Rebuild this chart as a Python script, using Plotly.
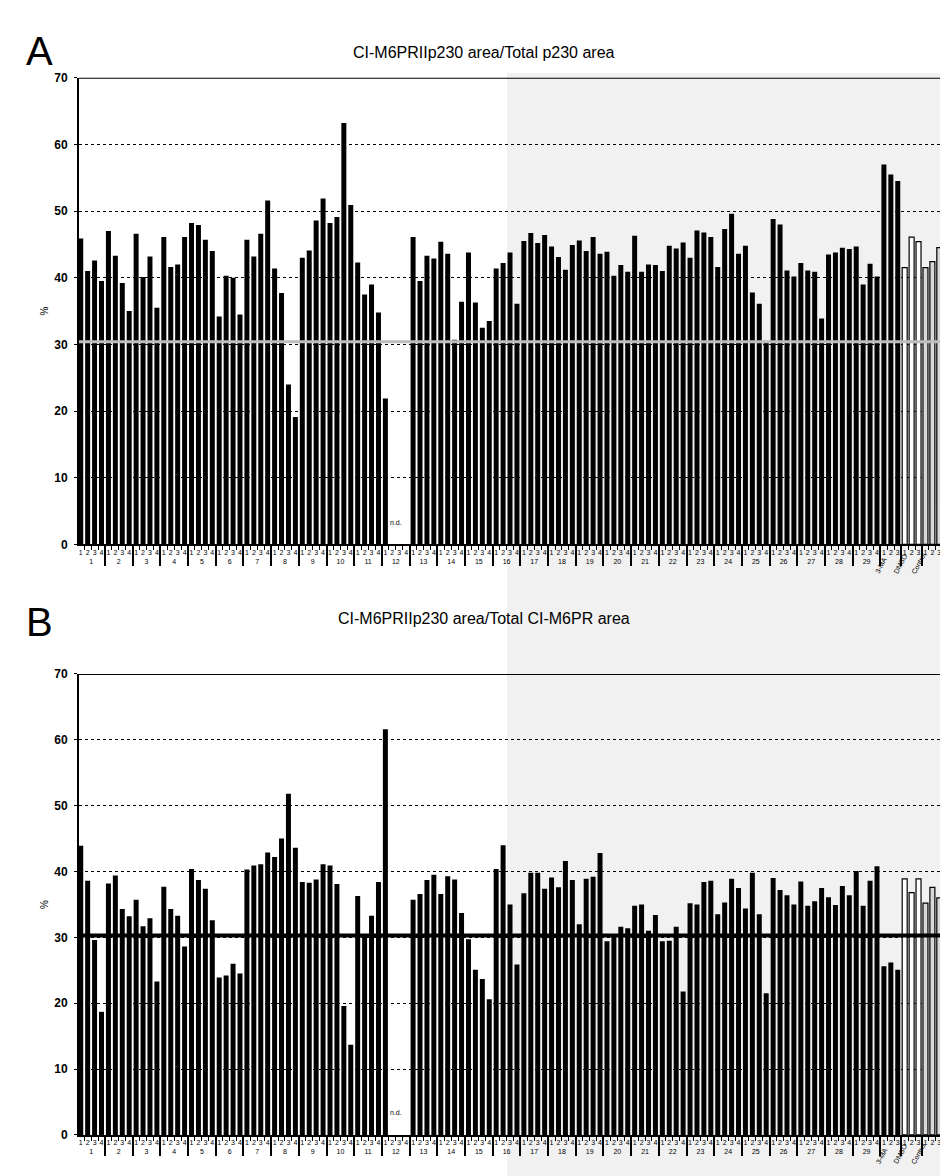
import plotly.graph_objects as go

# ---------------- data ----------------
group_names = [str(i) for i in range(1, 30)] + ["3-MA", "DMSO", "Control"]
group_sizes = [4] * 29 + [3, 3, 3]

# Panel A: CI-M6PR∩p230 area / Total p230 area (%)
vals_a = [
    45.9, 41.0, 42.6, 39.5,
    47.0, 43.3, 39.2, 35.0,
    46.6, 40.1, 43.2, 35.5,
    46.1, 41.6, 42.0, 46.1,
    48.2, 47.9, 45.7, 44.0,
    34.2, 40.3, 40.0, 34.5,
    45.7, 43.2, 46.6, 51.6,
    41.4, 37.7, 24.0, 19.1,
    43.0, 44.1, 48.6, 51.9,
    48.2, 49.1, 63.2, 50.9,
    42.3, 37.5, 39.0, 34.8,
    21.9, None, None, None,
    46.1, 39.5, 43.3, 42.9,
    45.4, 43.6, 30.7, 36.4,
    43.8, 36.3, 32.5, 33.5,
    41.4, 42.2, 43.8, 36.1,
    45.5, 46.7, 45.2, 46.4,
    44.7, 43.1, 41.2, 44.9,
    45.6, 44.0, 46.1, 43.6,
    43.9, 40.3, 41.9, 40.9,
    46.3, 40.9, 42.0, 41.9,
    41.0, 44.8, 44.4, 45.3,
    43.0, 47.1, 46.8, 46.1,
    41.6, 47.3, 49.6, 43.6,
    44.8, 37.8, 36.1, 30.4,
    48.8, 48.0, 41.1, 40.2,
    42.2, 41.1, 40.9, 33.9,
    43.5, 43.8, 44.5, 44.3,
    44.7, 39.0, 42.1, 40.2,
    57.0, 55.5, 54.5,
    41.5, 46.1, 45.4,
    41.5, 42.4, 44.5,
]

# Panel B: CI-M6PR∩p230 area / Total CI-M6PR area (%)
vals_b = [
    43.9, 38.6, 29.6, 18.7,
    38.2, 39.4, 34.3, 33.2,
    35.7, 31.7, 32.9, 23.3,
    37.7, 34.3, 33.3, 28.6,
    40.4, 38.7, 37.4, 32.6,
    23.9, 24.2, 26.0, 24.5,
    40.3, 40.9, 41.1, 42.9,
    42.2, 45.0, 51.8, 43.6,
    38.4, 38.3, 38.8, 41.1,
    40.9, 38.1, 19.6, 13.7,
    36.3, 30.5, 33.3, 38.4,
    61.6, None, None, None,
    35.7, 36.6, 38.7, 39.5,
    36.6, 39.3, 38.8, 33.7,
    29.7, 25.1, 23.7, 20.6,
    40.4, 44.0, 35.0, 25.9,
    36.7, 39.8, 39.8, 37.4,
    39.1, 37.6, 41.6, 38.7,
    32.0, 38.9, 39.2, 42.8,
    29.4, 30.5, 31.6, 31.4,
    34.8, 35.0, 31.0, 33.4,
    29.4, 29.5, 31.6, 21.8,
    35.2, 35.0, 38.4, 38.6,
    33.5, 35.3, 38.9, 37.5,
    34.4, 39.8, 33.5, 21.5,
    39.0, 37.2, 36.4, 35.0,
    38.5, 34.8, 35.5, 37.5,
    36.1, 34.9, 37.8, 36.4,
    40.1, 34.8, 38.6, 40.8,
    25.6, 26.2, 25.1,
    38.9, 36.8, 38.9,
    35.2, 37.6, 36.0,
]

threshold_a = 30.4
threshold_b = 30.3
y_ticks = [0, 10, 20, 30, 40, 50, 60, 70]
title_a = "CI-M6PRIIp230 area/Total p230 area"
title_b = "CI-M6PRIIp230 area/Total CI-M6PR area"
rotated_groups = ["3-MA", "DMSO", "Control"]

# ---------------- build categories ----------------
lvl1, lvl2, fill, edge, ewidth = [], [], [], [], []
blank_count = 0
for name, n in zip(group_names, group_sizes):
    if name in rotated_groups:
        blank_count += 1
        shown = " " * blank_count
    else:
        shown = name
    for k in range(n):
        lvl1.append(shown)
        lvl2.append(str(k + 1))
        if name == "DMSO":
            fill.append("white"); edge.append("black"); ewidth.append(1.2)
        elif name == "Control":
            fill.append("#d8d8d8"); edge.append("black"); ewidth.append(1.2)
        else:
            fill.append("black"); edge.append("black"); ewidth.append(0)

XR = [-0.25, 124.1]
FONT = "Liberation Sans, Arial, sans-serif"
Y_A = [0.5371, 0.9339]
Y_B = [0.0349, 0.4269]


def xpaper(idx):
    return (idx - XR[0]) / (XR[1] - XR[0])


fig = go.Figure()
for vals, xa, ya in [(vals_a, "x", "y"), (vals_b, "x2", "y2")]:
    fig.add_trace(go.Bar(
        x=[lvl1, lvl2], y=vals, xaxis=xa, yaxis=ya, showlegend=False,
        hoverinfo="skip",
        marker=dict(color=fill, line=dict(color=edge, width=ewidth)),
    ))

xcommon = dict(
    type="multicategory", range=XR, domain=[0, 1], showline=True,
    linecolor="black", linewidth=2, ticks="outside", ticklen=4,
    tickcolor="black", showdividers=True, dividercolor="black",
    dividerwidth=1.5, tickangle=0, tickmode="linear", dtick=1,
    tickfont=dict(family=FONT, size=7, color="black"),
    showgrid=False, automargin=False,
)
ycommon = dict(
    range=[0, 70], tickvals=y_ticks, showline=True, linecolor="black",
    linewidth=2, ticks="outside", ticklen=3, tickcolor="black",
    ticklabelstandoff=4,
    showgrid=True, gridcolor="black", griddash="dot", gridwidth=1.3,
    zeroline=False, tickfont=dict(family=FONT, size=12, color="black", weight="bold"),
    automargin=False,
)

fig.update_layout(
    width=940, height=1176,
    margin=dict(l=79, r=0, t=0, b=0),
    paper_bgcolor="white", plot_bgcolor="rgba(0,0,0,0)",
    bargap=0.28,
    xaxis=dict(anchor="y", **xcommon),
    xaxis2=dict(anchor="y2", **xcommon),
    yaxis=dict(anchor="x", domain=Y_A, **ycommon),
    yaxis2=dict(anchor="x2", domain=Y_B, **ycommon),
)

shapes = [
    # scanned stipple background on the right side
    dict(type="rect", xref="paper", yref="paper", x0=(507 - 79) / 861, x1=1.0,
         y0=0, y1=1 - 73 / 1176, fillcolor="#f1f1f1", line=dict(width=0), layer="below"),
]
for yr, thr, col, w in [("y", threshold_a, "#bdbdbd", 3), ("y2", threshold_b, "black", 4)]:
    shapes.append(dict(type="line", xref="paper", yref=yr, x0=0, x1=1, y0=70, y1=70,
                       line=dict(color="black", width=2)))
    shapes.append(dict(type="line", xref="paper", yref=yr, x0=0, x1=1, y0=thr, y1=thr,
                       line=dict(color=col, width=w)))
fig.update_layout(shapes=shapes)

ann = []
for letter, ly, title, ty, yd in [("A", 1 - 27 / 1176, title_a, 1 - 42 / 1176, "y domain"),
                                   ("B", 1 - 622 / 1176, title_b, 1 - 618 / 1176, "y2 domain")]:
    ann.append(dict(text=letter, xref="paper", yref="paper", x=(24 - 79) / 861, y=ly,
                    showarrow=False, font=dict(family=FONT, size=40, color="black")))
    ann.append(dict(text=title, xref="paper", yref="paper", x=(484 - 79) / 861,
                    y=ty, showarrow=False, font=dict(family=FONT, size=16, color="black")))
    ann.append(dict(text="%", xref="paper", yref=yd, x=(37 - 79) / 861, y=0.5, textangle=-90,
                    showarrow=False, font=dict(family=FONT, size=10, color="black")))
    ann.append(dict(text="n.d.", xref="paper", yref=yd, x=xpaper(45.5), y=2.5 / 70,
                    showarrow=False, font=dict(family=FONT, size=7, color="black")))
    # rotated group labels for the control groups
    start = sum(group_sizes[:29])
    for gname, gsize in zip(group_names[29:], group_sizes[29:]):
        center = min(start + (gsize - 1) / 2, 122.6)
        ann.append(dict(text=gname, xref="paper", yref=yd, x=xpaper(center), y=-5.0 / 70,
                        textangle=-62, showarrow=False,
                        font=dict(family=FONT, size=7, color="black")))
        start += gsize
fig.update_layout(annotations=ann)

fig.write_html("out.html", config={"displayModeBar": False},
               post_script="document.body.style.margin='0';")
